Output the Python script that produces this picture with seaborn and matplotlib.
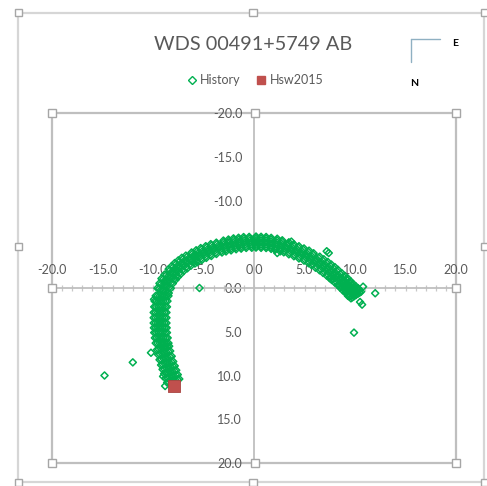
import numpy as np
import pandas as pd
import matplotlib
matplotlib.use("Agg")
import matplotlib.pyplot as plt
import seaborn as sns
from matplotlib.patches import Rectangle
from matplotlib.lines import Line2D
from matplotlib.ticker import MultipleLocator, FixedLocator

# ---- measured positions (arcsec offsets, E/N) ----
hist_x = [
    -8.0, -8.43, -7.57, -8.15, -8.37, -7.94,
    -8.3, -8.73, -7.87, -8.45, -8.67, -8.24,
    -8.6, -9.03, -8.17, -8.75, -8.97, -8.54,
    -8.9, -9.33, -8.47, -9.0, -9.22, -8.79,
    -9.1, -9.55, -8.65, -9.18, -9.4, -8.95,
    -9.25, -9.7, -8.8, -9.28, -9.5, -9.05,
    -9.3, -9.75, -8.85, -9.3, -9.52, -9.08,
    -9.3, -9.75, -8.85, -9.25, -9.47, -9.03,
    -9.2, -9.65, -8.75, -9.1, -9.32, -8.88,
    -9.0, -9.4, -8.6, -8.8, -9.0, -8.6,
    -8.6, -9.0, -8.2, -8.3, -8.5, -8.1,
    -8.0, -8.32, -7.68, -7.7, -7.86, -7.54,
    -7.4, -7.72, -7.08, -7.05, -7.21, -6.89,
    -6.7, -7.02, -6.38, -6.3, -6.46, -6.14,
    -5.9, -6.1, -5.7, -5.45, -5.55, -5.35,
    -5.0, -5.2, -4.8, -4.5, -4.6, -4.4,
    -4.0, -4.2, -3.8, -3.45, -3.55, -3.35,
    -2.9, -2.99, -2.81, -2.4, -2.45, -2.35,
    -1.9, -1.99, -1.81, -1.4, -1.45, -1.35,
    -0.9, -0.99, -0.81, -0.35, -0.4, -0.3,
    0.2, 0.2, 0.2, 0.7, 0.7, 0.7,
    1.2, 1.2, 1.2, 1.7, 1.7, 1.7,
    2.2, 2.27, 2.13, 2.7, 2.74, 2.66,
    3.2, 3.38, 3.02, 3.7, 3.79, 3.61,
    4.2, 4.38, 4.02, 4.7, 4.79, 4.61,
    5.2, 5.38, 5.02, 5.65, 5.74, 5.56,
    6.1, 6.39, 5.81, 6.5, 6.65, 6.35,
    6.9, 7.19, 6.61, 7.25, 7.4, 7.1,
    7.6, 7.89, 7.31, 7.9, 8.05, 7.75,
    8.2, 8.56, 7.84, 8.5, 8.68, 8.32,
    8.8, 9.16, 8.44, 9.05, 9.23, 8.87,
    9.3, 9.66, 8.94, 9.55, 9.73, 9.37,
    9.8, 10.16, 9.44, 9.95, 10.13, 9.77,
    10.1, 10.46, 9.74,
]
hist_y = [
    10.6, 10.74, 10.46, 10.1, 10.17, 10.03,
    9.6, 9.74, 9.46, 9.1, 9.17, 9.03,
    8.6, 8.74, 8.46, 8.0, 8.07, 7.93,
    7.4, 7.54, 7.26, 6.85, 6.92, 6.78,
    6.3, 6.3, 6.3, 5.7, 5.7, 5.7,
    5.1, 5.1, 5.1, 4.55, 4.55, 4.55,
    4.0, 4.0, 4.0, 3.4, 3.4, 3.4,
    2.8, 2.8, 2.8, 2.15, 2.15, 2.15,
    1.5, 1.5, 1.5, 0.9, 0.9, 0.9,
    0.3, 0.1, 0.5, -0.25, -0.35, -0.15,
    -0.8, -1.0, -0.6, -1.25, -1.35, -1.15,
    -1.7, -2.02, -1.38, -2.05, -2.21, -1.89,
    -2.4, -2.72, -2.08, -2.7, -2.86, -2.54,
    -3.0, -3.32, -2.68, -3.25, -3.41, -3.09,
    -3.5, -3.9, -3.1, -3.75, -3.95, -3.55,
    -4.0, -4.4, -3.6, -4.22, -4.42, -4.02,
    -4.45, -4.85, -4.05, -4.62, -4.82, -4.42,
    -4.8, -5.24, -4.36, -4.92, -5.14, -4.7,
    -5.05, -5.49, -4.61, -5.12, -5.34, -4.9,
    -5.2, -5.64, -4.76, -5.22, -5.44, -5.0,
    -5.25, -5.7, -4.8, -5.22, -5.44, -5.0,
    -5.2, -5.65, -4.75, -5.1, -5.32, -4.88,
    -5.0, -5.45, -4.55, -4.82, -5.04, -4.6,
    -4.65, -5.06, -4.24, -4.42, -4.62, -4.22,
    -4.2, -4.61, -3.79, -3.95, -4.15, -3.75,
    -3.7, -4.11, -3.29, -3.4, -3.6, -3.2,
    -3.1, -3.44, -2.76, -2.8, -2.97, -2.63,
    -2.5, -2.84, -2.16, -2.2, -2.37, -2.03,
    -1.9, -2.24, -1.56, -1.6, -1.77, -1.43,
    -1.3, -1.57, -1.03, -1.0, -1.14, -0.86,
    -0.7, -0.97, -0.43, -0.4, -0.54, -0.26,
    -0.1, -0.37, 0.17, 0.15, 0.02, 0.29,
    0.4, 0.13, 0.67, 0.6, 0.47, 0.74,
    0.8, 0.53, 1.07,
]
# further measurements spread across the width of the track
spread_x = [
    -8.22, -7.78, -8.6, -7.4, -8.58, -7.72, -8.75, -7.55,
    -8.52, -8.08, -8.9, -7.7, -8.88, -8.02, -9.05, -7.85,
    -8.82, -8.38, -9.2, -8.0, -9.18, -8.32, -9.35, -8.15,
    -9.12, -8.68, -9.5, -8.3, -9.43, -8.57, -9.6, -8.4,
    -9.32, -8.88, -9.73, -8.47, -9.63, -8.73, -9.81, -8.55,
    -9.47, -9.03, -9.88, -8.62, -9.73, -8.83, -9.91, -8.65,
    -9.52, -9.08, -9.93, -8.67, -9.75, -8.85, -9.93, -8.67,
    -9.52, -9.08, -9.93, -8.67, -9.7, -8.8, -9.88, -8.62,
    -9.42, -8.98, -9.83, -8.57, -9.55, -8.65, -9.73, -8.47,
    -9.2, -8.8, -9.56, -8.44, -9.2, -8.4, -9.36, -8.24,
    -8.8, -8.4, -9.16, -8.04, -8.7, -7.9, -8.86, -7.74,
    -8.16, -7.84, -8.45, -7.55, -8.02, -7.38, -8.15, -7.25,
    -7.56, -7.24, -7.85, -6.95, -7.37, -6.73, -7.5, -6.6,
    -6.86, -6.54, -7.15, -6.25, -6.62, -5.98, -6.75, -5.85,
    -6.0, -5.8, -6.18, -5.62, -5.65, -5.25, -5.73, -5.17,
    -5.1, -4.9, -5.28, -4.72, -4.7, -4.3, -4.78, -4.22,
    -4.1, -3.9, -4.28, -3.72, -3.65, -3.25, -3.73, -3.17,
    -2.95, -2.85, -3.03, -2.77, -2.49, -2.31, -2.53, -2.27,
    -1.95, -1.85, -2.03, -1.77, -1.49, -1.31, -1.53, -1.27,
    -0.95, -0.85, -1.03, -0.77, -0.44, -0.26, -0.48, -0.22,
    0.2, 0.2, 0.2, 0.2, 0.7, 0.7, 0.7, 0.7,
    1.2, 1.2, 1.2, 1.2, 1.7, 1.7, 1.7, 1.7,
    2.24, 2.16, 2.3, 2.1, 2.77, 2.63, 2.8, 2.6,
    3.29, 3.11, 3.45, 2.95, 3.88, 3.52, 3.95, 3.45,
    4.29, 4.11, 4.45, 3.95, 4.88, 4.52, 4.95, 4.45,
    5.29, 5.11, 5.45, 4.95, 5.83, 5.47, 5.9, 5.4,
    6.25, 5.95, 6.51, 5.69, 6.79, 6.21, 6.91, 6.09,
    7.05, 6.75, 7.31, 6.49, 7.54, 6.96, 7.66, 6.84,
    7.75, 7.45, 8.01, 7.19, 8.19, 7.61, 8.31, 7.49,
    8.38, 8.02, 8.7, 7.7, 8.86, 8.14, 9.0, 8.0,
    8.98, 8.62, 9.3, 8.3, 9.41, 8.69, 9.55, 8.55,
    9.48, 9.12, 9.8, 8.8, 9.91, 9.19, 10.05, 9.05,
    9.98, 9.62, 10.3, 9.3, 10.31, 9.59, 10.45, 9.45,
    10.28, 9.92, 10.6, 9.6,
]
spread_y = [
    10.67, 10.53, 10.8, 10.4, 10.24, 9.96, 10.3, 9.9,
    9.67, 9.53, 9.8, 9.4, 9.24, 8.96, 9.3, 8.9,
    8.67, 8.53, 8.8, 8.4, 8.14, 7.86, 8.2, 7.8,
    7.47, 7.33, 7.6, 7.2, 6.99, 6.71, 7.05, 6.65,
    6.3, 6.3, 6.3, 6.3, 5.7, 5.7, 5.7, 5.7,
    5.1, 5.1, 5.1, 5.1, 4.55, 4.55, 4.55, 4.55,
    4.0, 4.0, 4.0, 4.0, 3.4, 3.4, 3.4, 3.4,
    2.8, 2.8, 2.8, 2.8, 2.15, 2.15, 2.15, 2.15,
    1.5, 1.5, 1.5, 1.5, 0.9, 0.9, 0.9, 0.9,
    0.2, 0.4, 0.02, 0.58, -0.45, -0.05, -0.53, 0.03,
    -0.9, -0.7, -1.08, -0.52, -1.45, -1.05, -1.53, -0.97,
    -1.86, -1.54, -2.15, -1.25, -2.37, -1.73, -2.5, -1.6,
    -2.56, -2.24, -2.85, -1.95, -3.02, -2.38, -3.15, -2.25,
    -3.16, -2.84, -3.45, -2.55, -3.57, -2.93, -3.7, -2.8,
    -3.7, -3.3, -4.06, -2.94, -4.15, -3.35, -4.31, -3.19,
    -4.2, -3.8, -4.56, -3.44, -4.62, -3.82, -4.78, -3.66,
    -4.65, -4.25, -5.01, -3.89, -5.02, -4.22, -5.18, -4.06,
    -5.02, -4.58, -5.42, -4.18, -5.36, -4.48, -5.54, -4.3,
    -5.27, -4.83, -5.67, -4.43, -5.56, -4.68, -5.74, -4.5,
    -5.42, -4.98, -5.82, -4.58, -5.66, -4.78, -5.84, -4.6,
    -5.47, -5.03, -5.88, -4.62, -5.67, -4.77, -5.85, -4.59,
    -5.42, -4.98, -5.83, -4.57, -5.55, -4.65, -5.73, -4.47,
    -5.22, -4.78, -5.63, -4.37, -5.27, -4.37, -5.45, -4.19,
    -4.85, -4.45, -5.22, -4.08, -4.83, -4.01, -4.99, -3.85,
    -4.4, -4.0, -4.77, -3.63, -4.36, -3.54, -4.52, -3.38,
    -3.9, -3.5, -4.27, -3.13, -3.81, -2.99, -3.97, -2.83,
    -3.27, -2.93, -3.58, -2.62, -3.14, -2.46, -3.28, -2.32,
    -2.67, -2.33, -2.98, -2.02, -2.54, -1.86, -2.68, -1.72,
    -2.07, -1.73, -2.38, -1.42, -1.94, -1.26, -2.08, -1.12,
    -1.44, -1.16, -1.68, -0.92, -1.27, -0.73, -1.38, -0.62,
    -0.84, -0.56, -1.08, -0.32, -0.67, -0.13, -0.78, -0.02,
    -0.24, 0.04, -0.48, 0.28, -0.12, 0.42, -0.23, 0.53,
    0.26, 0.54, 0.02, 0.78, 0.33, 0.87, 0.22, 0.98,
    0.66, 0.94, 0.42, 1.18,
]
# scattered measurements away from the main track
stray_x = [-14.8, -12.0, -5.4, 9.9, 12.0, 10.8, 10.5, 10.7, 9.3, 8.4, 7.4,
           7.2, 2.3, 3.7, -5.8, -7.9, -8.9, -9.9, -8.8, -10.2, -9.0, -8.8]
stray_y = [10.0, 8.5, 0.0, 5.1, 0.6, -0.15, 1.6, 1.9, 0.9, -0.35, -4.0,
           -4.2, -4.0, -5.3, -3.8, -1.9, -0.7, 1.3, 6.6, 7.4, 10.1, 11.2]

hsw_x = [-7.9]
hsw_y = [11.2]

tick_values = [-20.0, -15.0, -10.0, -5.0, 0.0, 5.0, 10.0, 15.0, 20.0]
tick_labels = ["-20.0", "-15.0", "-10.0", "-5.0", "0.0", "5.0", "10.0", "15.0", "20.0"]

GREEN = "#00B050"
RED = "#C0504D"
TEXT = "#595959"
AXIS = "#BFBFBF"

sns.set_theme(style="white")
plt.rcParams["font.family"] = ["Lato", "DejaVu Sans"]

W, H = 487, 486
fig = plt.figure(figsize=(W / 100, H / 100), dpi=100)
fig.patch.set_facecolor("white")


def fx(px):
    return px / W


def fy(py):
    return 1 - py / H


ax = fig.add_axes([fx(52), fy(463), (456 - 52) / W, (463 - 113) / H])

hist = pd.DataFrame({"x": hist_x + spread_x + stray_x,
                     "y": hist_y + spread_y + stray_y})
hsw = pd.DataFrame({"x": hsw_x, "y": hsw_y})

sns.scatterplot(data=hist, x="x", y="y", ax=ax, marker="D", s=13,
                color=GREEN, facecolor="none", edgecolor=GREEN,
                linewidth=1.1, zorder=3, legend=False)
sns.scatterplot(data=hsw, x="x", y="y", ax=ax, marker="s", s=64,
                color=RED, edgecolor="#A94441", linewidth=0.6,
                zorder=4, legend=False)

ax.set_xlim(-20, 20)
ax.set_ylim(20, -20)
ax.set_xlabel("")
ax.set_ylabel("")
ax.set_axisbelow(True)

# axes crossing at the origin
ax.spines["right"].set_visible(False)
ax.spines["bottom"].set_visible(False)
ax.spines["left"].set_position(("data", 0))
ax.spines["top"].set_position(("data", 0))
for s in ("left", "top"):
    ax.spines[s].set_color(AXIS)
    ax.spines[s].set_linewidth(1.3)

ax.xaxis.tick_top()
ax.xaxis.set_major_locator(FixedLocator(tick_values))
ax.yaxis.set_major_locator(FixedLocator(tick_values))
ax.set_xticklabels(tick_labels)
ax.set_yticklabels(tick_labels)
ax.xaxis.set_minor_locator(MultipleLocator(1))
ax.yaxis.set_minor_locator(MultipleLocator(1))
ax.tick_params(which="both", direction="inout", color="#C8C8C8", width=0.9,
               labelsize=9, labelcolor=TEXT)
ax.tick_params(which="major", length=5, pad=6)
ax.tick_params(which="minor", length=4)
ax.grid(False)

# plot-area frame
ax.add_patch(Rectangle((0, 0), 1, 1, transform=ax.transAxes, fill=False,
                       edgecolor=AXIS, linewidth=1.6, clip_on=False, zorder=0.4))

# chart-area frame
fig.add_artist(Rectangle((fx(18), fy(482)), (484 - 18) / W, (482 - 13) / H,
                         transform=fig.transFigure, fill=False,
                         edgecolor="#D6D6D6", linewidth=1.6))


def handle(px, py, size=8):
    fig.add_artist(Rectangle((fx(px - size / 2), fy(py + size / 2)),
                             size / W, size / H, transform=fig.transFigure,
                             facecolor="white", edgecolor="#A6A6A6",
                             linewidth=1.0, zorder=10))


for px, py in [(52, 113), (255, 113), (456, 113), (52, 288), (456, 288),
               (52, 463), (255, 463), (456, 463)]:
    handle(px, py)
for px, py in [(18, 13), (253, 13), (484, 13), (18, 247), (484, 247),
               (18, 482), (253, 482), (484, 482)]:
    handle(px, py, size=7)

fig.text(fx(253), fy(44), "WDS 00491+5749 AB", ha="center", va="center",
         fontsize=14.3, color=TEXT)

legend_handles = [
    Line2D([], [], marker="D", ls="none", mfc="none", mec=GREEN, ms=4.5, mew=1.0),
    Line2D([], [], marker="s", ls="none", mfc=RED, mec=RED, ms=6),
]
fig.legend(legend_handles, ["History", "Hsw2015"], loc="center",
           bbox_to_anchor=(fx(255), fy(80)), ncol=2, frameon=False,
           fontsize=9, labelcolor=TEXT, handlelength=0.8,
           handletextpad=0.3, columnspacing=1.2)

# orientation marker
fig.add_artist(Line2D([fx(411), fx(440)], [fy(39), fy(39)],
                      transform=fig.transFigure, color="#8FB0C2", lw=1.0))
fig.add_artist(Line2D([fx(411), fx(411)], [fy(39), fy(62)],
                      transform=fig.transFigure, color="#8FB0C2", lw=1.0))
fig.text(fx(455), fy(43), "E", ha="center", va="center", fontsize=7.5,
         fontweight="bold", color="black")
fig.text(fx(414), fy(84), "N", ha="center", va="center", fontsize=7.5,
         fontweight="bold", color="black")

fig.savefig("out.png", dpi=100)
